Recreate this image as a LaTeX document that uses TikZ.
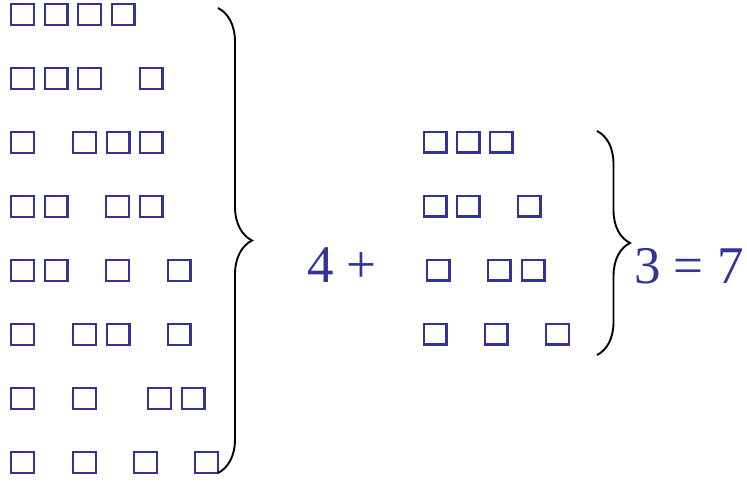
\documentclass[tikz,border=0pt]{standalone}
\usepackage{fontspec}
\setmainfont{Liberation Serif}
\usepackage{xcolor}
\usetikzlibrary{decorations.pathreplacing}
\definecolor{sqblue}{RGB}{51,51,153}
\tikzset{
  sq/.style={
    draw=sqblue, line width=2.4pt, minimum width=22.6pt, minimum height=20.6pt,
    inner sep=0pt
  },
  brc/.style={decorate, line width=1.9pt, draw=black},
  sumtxt/.style={text=sqblue, inner sep=0pt, anchor=base west,
    font=\fontsize{53}{60}\selectfont},
}

\begin{document}
\begin{tikzpicture}[x=1pt, y=-1pt]
  \useasboundingbox (0,0) rectangle (747,482);
  % left column: the eight ways
  \foreach \xs [count=\r from 0] in {
      {10,43.5,77,110.5}, {10,43.5,77,138.5}, {10,72,105.5,138.5},
      {10,43.5,105,138.5}, {10,43.5,105,166.5}, {10,72,105.5,166.5},
      {10,72,147,180.5}, {10,72,133,194}}
    \foreach \x [count=\c] in \xs
      \node[sq] (l\r-\c) at (\x+12.5, 14.5+64*\r) {};
  % right column: the three ways
  \foreach \xs [count=\r from 0] in {
      {422.5,455.5,488.5}, {422.5,455.5,516.5},
      {425.5,486.5,520.5}, {422.5,483.5,545}}
    \foreach \x [count=\c] in \xs
      \node[sq] (r\r-\c) at (\x+12.5, 142+64*\r) {};
  \coordinate (ltop) at (218,8);
  \coordinate (lbot) at (218,473);
  \coordinate (rtop) at (597,131);
  \coordinate (rbot) at (597,355);
  \draw[brc, decoration={brace, amplitude=34pt}] (ltop) -- (lbot);
  \draw[brc, decoration={brace, amplitude=33pt}] (rtop) -- (rbot);
  \node[sumtxt] (four) at (307,282) {4 +};
  \node[sumtxt] (total) at (634,283) {3 = 7};
\end{tikzpicture}
\end{document}
